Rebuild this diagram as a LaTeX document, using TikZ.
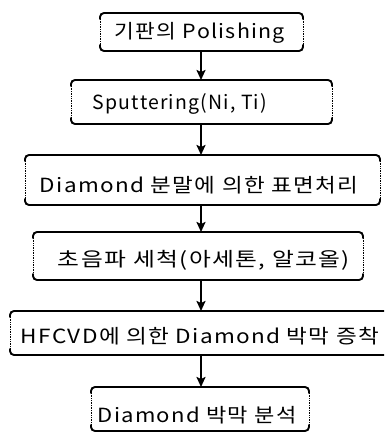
\documentclass[tikz,border=0pt]{standalone}
\usepackage{fontspec}
\setmainfont{Noto Sans CJK KR}
\newfontfamily\lblfont{Noto Sans CJK KR}[LetterSpace=6]
\usetikzlibrary{arrows.meta}
\newcommand{\fitw}[2]{\resizebox{#1}{\height}{#2}}
\tikzset{
  boxshape/.style={draw=none, inner sep=0pt, outer sep=0pt, rectangle},
  lbl/.style={inner sep=0pt, outer sep=0pt, anchor=center, font=\lblfont\fontsize{19.5}{24}\selectfont},
  edgeline/.style={line width=1.9pt, rounded corners=4pt, line cap=round},
  sideline/.style={line width=0.7pt, densely dotted},
  flow/.style={line width=2pt, -{Stealth[length=10pt,width=9pt,inset=2pt]}},
}
\newcommand{\procbox}[5]{% name, x1, x2, ytop, ybot
  \node[boxshape, minimum width={(#3-#2)*1pt}, minimum height={(#5-#4)*1pt}]
    (#1) at ({(#2+#3)/2*1pt},{-(#4+#5)/2*1pt}) {};
  \draw[edgeline] ([yshift=-6pt]#1.north west) -- (#1.north west) -- (#1.north east) -- ([yshift=-6pt]#1.north east);
  \draw[edgeline] ([yshift=6pt]#1.south west) -- (#1.south west) -- (#1.south east) -- ([yshift=6pt]#1.south east);
  \draw[sideline] ([yshift=-6pt]#1.north west) -- ([yshift=6pt]#1.south west);
  \draw[sideline] ([yshift=-6pt]#1.north east) -- ([yshift=6pt]#1.south east);
}
\begin{document}
\begin{tikzpicture}[x=1pt,y=-1pt]
\clip (0,0) rectangle (384,433);
\fill[white] (0,0) rectangle (384,433);
\procbox{b1}{100}{303}{13}{51}
\procbox{b2}{71}{332}{80}{124}
\procbox{b3}{25}{380}{155}{205}
\procbox{b4}{33}{363}{232}{280}
\procbox{b5}{10}{394}{311}{355}
\procbox{b6}{91}{309}{387}{431}
\node[lbl] (t1) at (200,33) {\fitw{170pt}{기판의 Polishing}};
\node[lbl] (t2) at (180,104) {\fitw{174pt}{Sputtering(Ni, Ti)}};
\node[lbl] (t3) at (199,185) {\fitw{318pt}{Diamond 분말에 의한 표면처리}};
\node[lbl] (t4) at (204,260) {\fitw{292pt}{초음파 세척(아세톤, 알코올)}};
\node[lbl] (t5) at (200,336) {\fitw{358pt}{HFCVD에 의한 Diamond 박막 증착}};
\node[lbl] (t6) at (197,415) {\fitw{199pt}{Diamond 박막 분석}};
\draw[flow] (b1.south -| 201,0) -- (b2.north -| 201,0);
\draw[flow] (b2.south -| 201,0) -- (b3.north -| 201,0);
\draw[flow] (b3.south -| 201,0) -- (b4.north -| 201,0);
\draw[flow] (b4.south -| 201,0) -- (b5.north -| 201,0);
\draw[flow] (b5.south -| 201,0) -- (b6.north -| 201,0);
\end{tikzpicture}
\end{document}
